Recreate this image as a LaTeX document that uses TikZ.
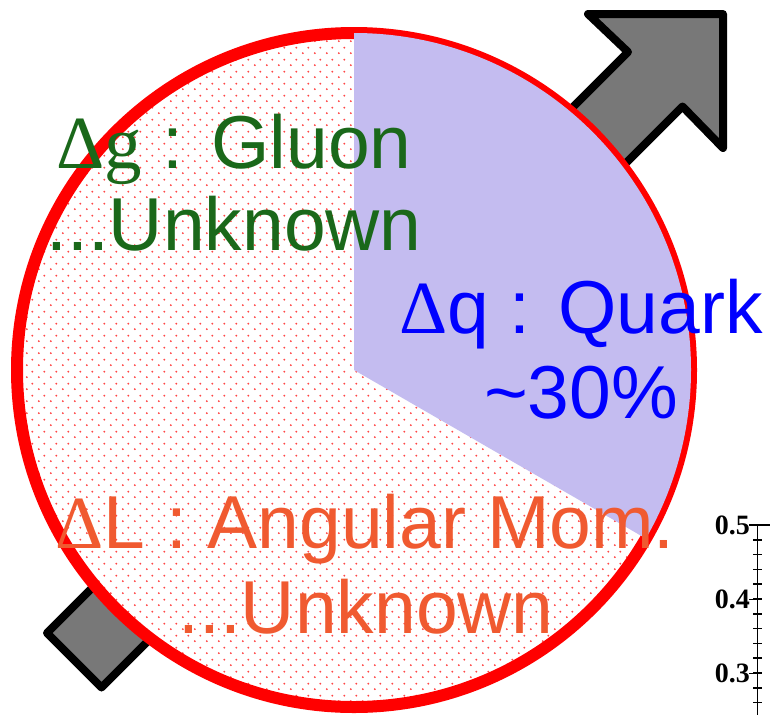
\documentclass[tikz,border=0pt]{standalone}
\usepackage{fontspec}
\setmainfont{Liberation Sans}
\newfontfamily\serifg{Liberation Serif}
\usetikzlibrary{patterns}
\definecolor{gluon}{RGB}{26,104,26}
\definecolor{qblue}{RGB}{0,0,255}
\definecolor{lorange}{RGB}{240,90,48}
\definecolor{lav}{RGB}{196,188,240}
\definecolor{dotred}{RGB}{255,70,70}
\definecolor{arrgray}{RGB}{120,120,120}
\pgfdeclarepatternformonly{reddots}{\pgfqpoint{0pt}{0pt}}{\pgfqpoint{12pt}{12pt}}{\pgfqpoint{12pt}{12pt}}{%
  \pgfpathcircle{\pgfqpoint{3pt}{3pt}}{1.1pt}%
  \pgfpathcircle{\pgfqpoint{9pt}{9pt}}{1.1pt}%
  \pgfusepath{fill}}
\tikzset{
  lbl/.style={anchor=base, inner sep=0pt, font=\fontsize{75}{75}\selectfont},
  axlbl/.style={anchor=east, inner sep=0pt, font=\serifg\bfseries\fontsize{28}{28}\selectfont},
  bigarrow/.style={draw=black, line width=8pt, line join=round, fill=arrgray},
  axisline/.style={line width=1.6pt, black},
}
\begin{document}
\begin{tikzpicture}[x=1pt,y=-1pt]
\useasboundingbox (0,0) rectangle (770,715);
% arrow behind the circle
\coordinate (a1) at (47,633);
\coordinate (a2) at (628,52);
\coordinate (a3) at (588,14);
\coordinate (a4) at (723,14);
\coordinate (a5) at (723,148);
\coordinate (a6) at (682.5,106.5);
\coordinate (a7) at (101.5,687.5);
\draw[bigarrow] (a1) -- (a2) -- (a3) -- (a4) -- (a5) -- (a6) -- (a7) -- cycle;
% pie
\coordinate (c) at (354,370);
\fill[white] (c) circle[radius=337pt];
\fill[pattern=reddots, pattern color=dotred] (c) circle[radius=337pt];
\draw[red, line width=12pt] (c) circle[radius=337pt];
\fill[lav] (c) -- ++(90:337pt) arc[start angle=90, end angle=-30, radius=337pt] -- cycle;
% texts
\node[lbl, text=gluon] (g1) at (234,168) {{\serifg Δg} : Gluon};
\node[lbl, text=gluon] (g2) at (234,250) {...Unknown};
\node[lbl, text=qblue] (q1) at (581,333) {{\serifg Δ}q : Quark};
\node[lbl, text=qblue] (q2) at (581,418) {\textasciitilde30\%};
\node[lbl, text=lorange] (l1) at (365,548) {{\serifg Δ}L : Angular Mom.};
\node[lbl, text=lorange] (l2) at (366,633) {...Unknown};
% axis fragment
\coordinate (axtop) at (757.5,525);
\coordinate (axbot) at (757.5,715);
\coordinate (frr) at (770,525);
\coordinate (frl) at (749,525);
\draw[axisline] (axtop) -- (axbot);
\draw[axisline] (frl) -- (frr);
\foreach \yy in {599.5,673.5} \draw[axisline] (749,\yy) -- (762,\yy);
\foreach \k in {1,...,12} \draw[axisline] (753,525+14.8*\k) -- (762,525+14.8*\k);
\node[axlbl] (t5) at (750,525) {0.5};
\node[axlbl] (t4) at (750,599.5) {0.4};
\node[axlbl] (t3) at (750,673.5) {0.3};
\end{tikzpicture}
\end{document}
